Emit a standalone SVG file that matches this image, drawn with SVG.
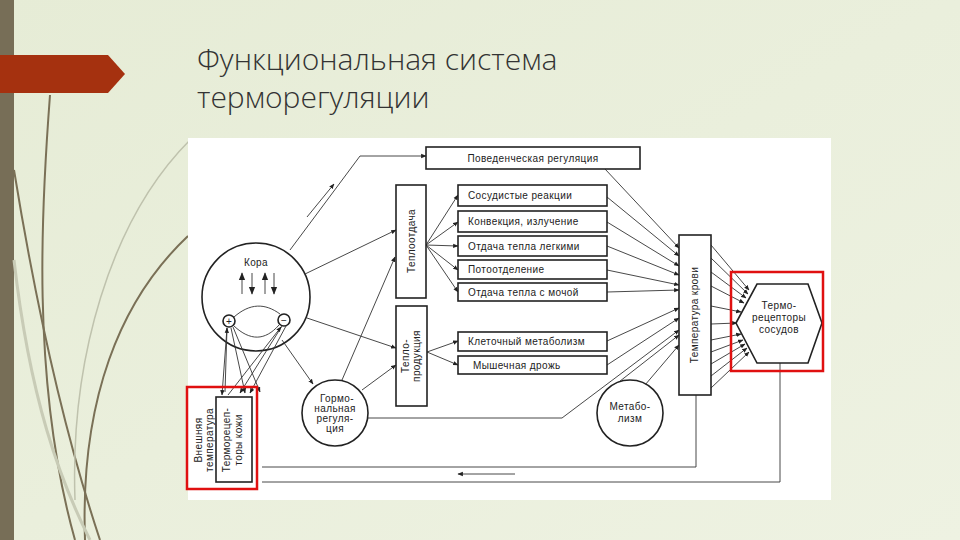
<svg xmlns="http://www.w3.org/2000/svg" width="960" height="540" viewBox="0 0 960 540">
<defs>
<linearGradient id="bg" x1="0" y1="0" x2="1" y2="1"><stop offset="0" stop-color="#e6ecd6"/><stop offset="1" stop-color="#eef2e2"/></linearGradient>
<marker id="a" viewBox="0 0 10 10" refX="9" refY="5" markerWidth="6" markerHeight="6" orient="auto"><path d="M0,1L10,5L0,9z" fill="#222"/></marker>
<marker id="a2" viewBox="0 0 10 10" refX="9" refY="5" markerWidth="9" markerHeight="9" orient="auto"><path d="M0,1L10,5L0,9z" fill="#222"/></marker>
</defs>
<style>
.b{fill:#fff;stroke:#222;stroke-width:1.6}
.l{fill:none;stroke:#333;stroke-width:0.9}
.m{marker-end:url(#a)}
.m2{marker-end:url(#a2)}
.t{font-family:"Liberation Sans",Arial,sans-serif;font-size:10px;fill:#222;letter-spacing:0.4px}
.d{fill:none;stroke:#7a7056;stroke-width:2}
</style>
<rect width="960" height="540" fill="url(#bg)"/>
<rect x="0" y="0" width="14" height="540" fill="#776e57"/>
<path d="M0,55H108L125,74L108,93H0z" fill="#a5310f"/>
<g id="decor">
<path class="d" d="M50,95C42,200 30,380 75,540"/>
<path class="d" d="M14,170C40,330 70,450 100,540"/>
<path class="d" d="M188,236C120,300 80,400 85,540"/>
<path d="M190,140C110,220 70,360 75,500" fill="none" stroke="#bfc2ad" stroke-width="1.5"/>
<path d="M14,260C30,400 60,480 90,540" fill="none" stroke="#c8cbb6" stroke-width="3"/>
</g>
<text x="197" y="70" font-family="'Open Sans','Liberation Sans',Arial,sans-serif" font-weight="300" font-size="30" fill="#333">Функциональная система</text>
<text x="197" y="108" font-family="'Open Sans','Liberation Sans',Arial,sans-serif" font-weight="300" font-size="30" fill="#333">терморегуляции</text>
<rect x="188" y="138" width="643" height="362" fill="#fff"/>

<g id="kora"><circle class="b" cx="256" cy="297" r="54"/><text class="t" x="256" y="266" text-anchor="middle">Кора</text>
<circle class="b" cx="229" cy="321" r="6" stroke-width="1.2"/><text class="t" x="229" y="325" text-anchor="middle">+</text>
<circle class="b" cx="284" cy="320" r="6" stroke-width="1.2"/><text class="t" x="284" y="324" text-anchor="middle">−</text></g>

<g id="connectors">
<path class="l m" d="M290,250L360,156H426"/>
<path class="l m" d="M307,217L334,184"/>
<path class="l m" d="M305,274L396,230"/>
<path class="l m" d="M307,318L396,348"/>
<path class="l m" d="M282,340L313,384"/>
<path class="l m" d="M342,380L395,257"/>
<path class="l m" d="M362,390L396,365"/>
<path class="l m" d="M426,245L458,195"/>
<path class="l m" d="M426,245L458,222"/>
<path class="l m" d="M426,245L458,246"/>
<path class="l m" d="M426,245L458,270"/>
<path class="l m" d="M426,245L458,292"/>
<path class="l m" d="M427,352L458,341"/>
<path class="l m" d="M427,352L458,365"/>
<path class="l m" d="M605,169L679,248"/>
<path class="l m" d="M607,197L679,256"/>
<path class="l m" d="M607,222L679,266"/>
<path class="l m" d="M607,246L679,275"/>
<path class="l m" d="M607,270L679,285"/>
<path class="l m" d="M607,292L679,290"/>
<path class="l m" d="M607,341L679,308"/>
<path class="l m" d="M607,365L679,318"/>
<path class="l m" d="M368,418H562L679,330"/>
<path class="l m" d="M615,385L679,335"/>
<path class="l m" d="M645,385L679,345"/>
<path class="l m" d="M711,245L749,290"/>
<path class="l m" d="M711,258L748,294"/>
<path class="l m" d="M711,272L746,298"/>
<path class="l m" d="M711,286L744,303"/>
<path class="l m" d="M711,306L741,312"/>
<path class="l m" d="M711,324L737,323"/>
<path class="l m" d="M711,340L741,334"/>
<path class="l m" d="M711,352L743,340"/>
<path class="l m" d="M711,364L745,344"/>
<path class="l m" d="M711,376L747,348"/>
<path class="l m" d="M711,388L749,352"/>
<path class="l" d="M696,395V467H262"/>
<path class="l" d="M780,363V482H262"/>
<path class="l m" d="M515,474H458"/>
<path class="l" d="M234,317C250,303 265,303 280,314"/>
<path class="l" d="M234,326C250,341 265,341 279,325"/>
<path class="l m" d="M227,328L222,395"/>
<path class="l m" d="M231,328L245,393"/>
<path class="l m" d="M233,327L260,392"/>
<path class="l m" d="M282,326L240,393"/>
<path class="l m" d="M286,326L250,393"/>
<path class="l m" d="M225,392L227,328"/>
<path class="l m" d="M228,395L281,327"/>
<path class="l m2" d="M242,294V273"/>
<path class="l m2" d="M252,273V294"/>
<path class="l m2" d="M265,294V273"/>
<path class="l m2" d="M274,273V294"/>
</g>

<g id="beh"><rect class="b" x="426" y="147" width="214" height="22"/><text class="t" x="533" y="162" text-anchor="middle">Поведенческая регуляция</text></g>
<g id="teplootdacha"><rect class="b" x="396" y="185" width="30" height="113"/><text class="t" x="415" y="241" text-anchor="middle" transform="rotate(-90 415 241)">Теплоотдача</text></g>
<g id="teploprod"><rect class="b" x="396" y="306" width="31" height="100"/><text class="t" transform="rotate(-90 409 356)" x="409" y="356" text-anchor="middle">Тепло-<tspan x="409" dy="11">продукция</tspan></text></g>
<g id="r1"><rect class="b" x="458" y="185" width="149" height="21"/><text class="t" x="468" y="199">Сосудистые реакции</text></g>
<g id="r2"><rect class="b" x="458" y="211" width="149" height="21"/><text class="t" x="468" y="225">Конвекция, излучение</text></g>
<g id="r3"><rect class="b" x="458" y="236" width="149" height="20"/><text class="t" x="468" y="250">Отдача тепла легкими</text></g>
<g id="r4"><rect class="b" x="458" y="260" width="149" height="19"/><text class="t" x="468" y="273">Потоотделение</text></g>
<g id="r5"><rect class="b" x="458" y="283" width="149" height="18"/><text class="t" x="468" y="296">Отдача тепла с мочой</text></g>
<g id="r6"><rect class="b" x="458" y="332" width="149" height="19"/><text class="t" x="468" y="345">Клеточный метаболизм</text></g>
<g id="r7"><rect class="b" x="458" y="356" width="149" height="18"/><text class="t" x="473" y="369">Мышечная дрожь</text></g>
<g id="hormon"><circle class="b" cx="335" cy="413" r="33"/><text class="t" x="337" y="402" text-anchor="middle">Гормо-<tspan x="335" dy="10">нальная</tspan><tspan x="335" dy="10">регуля-</tspan><tspan x="335" dy="10">ция</tspan></text></g>
<g id="metab"><circle class="b" cx="630" cy="413" r="33"/><text class="t" x="630" y="410" text-anchor="middle">Метабо-<tspan x="630" dy="12">лизм</tspan></text></g>
<g id="tkrovi"><rect class="b" x="679" y="235" width="32" height="160"/><text class="t" transform="rotate(-90 698 315)" x="698" y="315" text-anchor="middle">Температура крови</text></g>
<g id="hex"><path class="b" d="M736,323L757,284H808L822,323L808,363H757z"/><text class="t" x="779" y="309" text-anchor="middle">Термо-<tspan x="779" dy="12">рецепторы</tspan><tspan x="779" dy="12">сосудов</tspan></text>
<rect x="731" y="272" width="92" height="99" fill="none" stroke="#e01010" stroke-width="2.5"/></g>
<g id="skin"><rect class="b" x="216" y="397" width="36" height="85"/><text class="t" transform="rotate(-90 230 440)" x="230" y="440" text-anchor="middle">Терморецеп-<tspan x="230" dy="12">торы кожи</tspan></text>
<text class="t" transform="rotate(-90 202 440)" x="202" y="440" text-anchor="middle">Внешняя<tspan x="202" dy="11">температура</tspan></text>
<rect x="187" y="387" width="70" height="102" fill="none" stroke="#e01010" stroke-width="2.5"/></g>
</svg>
